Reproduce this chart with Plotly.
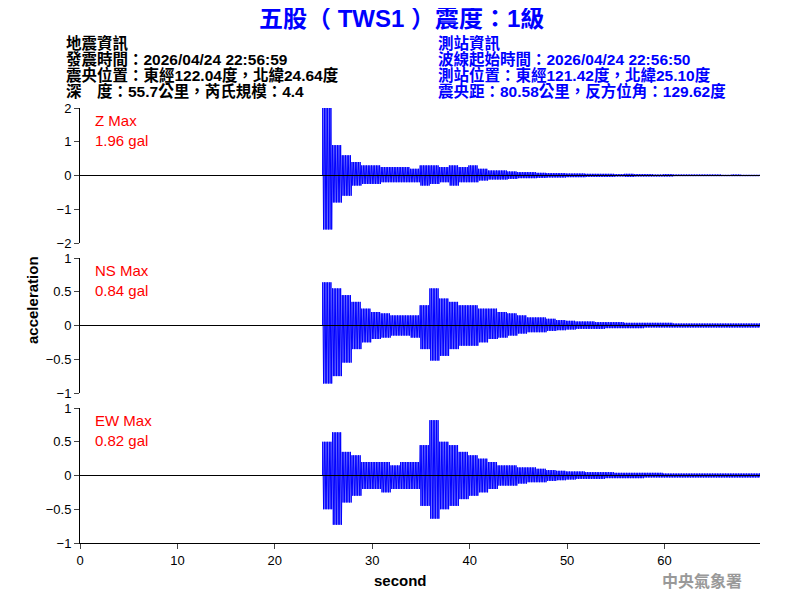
import plotly.graph_objects as go

t_sec = list(range(25, 70))
z_up = [2.0,0.9,0.6,0.4,0.3,0.3,0.25,0.25,0.25,0.2,0.3,0.3,0.25,0.3,0.25,0.3,0.2,0.15,0.15,0.12,0.1,0.1,0.08,0.07,0.07,0.06,0.06,0.05,0.05,0.05,0.04,0.05,0.04,0.04,0.03,0.04,0.03,0.03,0.03,0.03,0.03,0.02,0.03,0.02,0.02]
z_lo = [-1.6,-0.8,-0.6,-0.3,-0.25,-0.25,-0.2,-0.2,-0.2,-0.2,-0.3,-0.25,-0.2,-0.3,-0.2,-0.2,-0.15,-0.12,-0.12,-0.1,-0.08,-0.08,-0.07,-0.06,-0.06,-0.05,-0.05,-0.04,-0.04,-0.04,-0.03,-0.04,-0.03,-0.03,-0.03,-0.03,-0.02,-0.02,-0.02,-0.02,-0.02,-0.02,-0.02,-0.02,-0.02]
ns_up = [0.64,0.55,0.45,0.35,0.25,0.2,0.18,0.15,0.15,0.15,0.3,0.55,0.4,0.35,0.3,0.3,0.25,0.25,0.2,0.18,0.15,0.12,0.12,0.1,0.08,0.07,0.06,0.06,0.05,0.05,0.05,0.04,0.04,0.04,0.04,0.04,0.03,0.03,0.03,0.03,0.03,0.03,0.03,0.03,0.03]
ns_lo = [-0.86,-0.75,-0.55,-0.35,-0.25,-0.2,-0.18,-0.15,-0.15,-0.18,-0.35,-0.52,-0.45,-0.35,-0.3,-0.3,-0.25,-0.2,-0.18,-0.15,-0.12,-0.1,-0.1,-0.08,-0.07,-0.06,-0.05,-0.05,-0.05,-0.04,-0.04,-0.04,-0.04,-0.03,-0.03,-0.03,-0.03,-0.03,-0.03,-0.03,-0.03,-0.03,-0.03,-0.03,-0.03]
ew_up = [0.5,0.64,0.35,0.3,0.2,0.2,0.2,0.15,0.2,0.2,0.45,0.82,0.5,0.45,0.35,0.3,0.25,0.2,0.15,0.15,0.12,0.12,0.1,0.08,0.07,0.06,0.06,0.05,0.05,0.05,0.04,0.04,0.04,0.04,0.04,0.03,0.03,0.03,0.03,0.03,0.03,0.03,0.03,0.03,0.03]
ew_lo = [-0.5,-0.73,-0.4,-0.3,-0.2,-0.2,-0.25,-0.2,-0.2,-0.2,-0.45,-0.64,-0.5,-0.45,-0.35,-0.3,-0.25,-0.2,-0.15,-0.15,-0.12,-0.1,-0.1,-0.08,-0.07,-0.06,-0.05,-0.05,-0.05,-0.04,-0.04,-0.04,-0.04,-0.03,-0.03,-0.03,-0.03,-0.03,-0.03,-0.03,-0.03,-0.03,-0.03,-0.03,-0.03]
labels = ["Z Max<br>1.96 gal", "NS Max<br>0.84 gal", "EW Max<br>0.82 gal"]
left_info = ["地震資訊", "發震時間：2026/04/24 22:56:59", "震央位置：東經122.04度，北緯24.64度", "深　度：55.7公里，芮氏規模：4.4"]
right_info = ["測站資訊", "波線起始時間：2026/04/24 22:56:50", "測站位置：東經121.42度，北緯25.10度", "震央距：80.58公里，反方位角：129.62度"]

def trace(up, lo):
    xs, ys = [0, 24.9], [0, 0]
    for t, u, l in zip(t_sec, up, lo):
        for k in range(6):
            xs += [t - 0.08 + k * 0.167, t + k * 0.167]
            ys += [u, l]
    xs.append(69.8); ys.append(0)
    return xs, ys

fig = go.Figure()
OFF = 8  # page body margin
W, H = 800, 600
L, R, T, B = 72, 48, 100, 65
pw, ph = W - L - R, H - T - B
def px(x): return (x - OFF - L) / pw
def py(y): return (H - B - (y - OFF)) / ph
doms = [(108, 243), (258, 393), (408, 543)]
ranges = [[-2, 2], [-1, 1], [-1, 1]]
ticks = [[-2, -1, 0, 1, 2], [-1, -0.5, 0, 0.5, 1], [-1, -0.5, 0, 0.5, 1]]
for i, (u, l) in enumerate([(z_up, z_lo), (ns_up, ns_lo), (ew_up, ew_lo)]):
    xs, ys = trace(u, l)
    ax = "" if i == 0 else str(i + 1)
    fig.add_trace(go.Scatter(x=xs, y=ys, mode="lines", line=dict(color="blue", width=1),
                             xaxis="x" + ax, yaxis="y" + ax, showlegend=False, hoverinfo="skip"))
    fig.add_trace(go.Scatter(x=[0, 69.8], y=[0, 0], mode="lines", line=dict(color="black", width=1),
                             xaxis="x" + ax, yaxis="y" + ax, showlegend=False, hoverinfo="skip"))
    d = doms[i]
    fig.layout["yaxis" + ax] = dict(domain=[py(d[1]), py(d[0])], range=ranges[i], tickvals=ticks[i],
                                    showline=True, linecolor="black", ticks="outside", ticklen=5,
                                    showgrid=False, zeroline=False, anchor="x" + ax,
                                    tickfont=dict(size=13, color="black"))
    fig.layout["xaxis" + ax] = dict(range=[0, 69.8], anchor="y" + ax, showgrid=False, zeroline=False,
                                    showline=(i == 2), linecolor="black", ticks="outside" if i == 2 else "",
                                    showticklabels=(i == 2), tickvals=[0, 10, 20, 30, 40, 50, 60],
                                    matches=None if i == 0 else "x", tickfont=dict(size=13, color="black"))
    fig.add_annotation(text=labels[i], x=px(93), y=py(d[0] + 2), xref="paper", yref="paper",
                       xanchor="left", yanchor="top", showarrow=False, align="left",
                       font=dict(size=15, color="red", family="Liberation Sans"))

def txt(t, x, y, anc, sz, col, ang=0):
    fig.add_annotation(text="<b>" + t + "</b>", x=px(x), y=py(y), xref="paper", yref="paper",
                       xanchor=anc, yanchor="middle", showarrow=False, textangle=ang,
                       font=dict(size=sz, color=col, family="Liberation Sans, Noto Sans CJK TC"))

txt("五股（ TWS1 ）震度：1級", 401, 19, "center", 24, "blue")
for j, s in enumerate(left_info):
    txt(s, 64, 43 + 16 * j, "left", 15.5, "black")
for j, s in enumerate(right_info):
    txt(s, 436, 43 + 16 * j, "left", 15.5, "blue")
txt("second", 400, 580, "center", 15, "black")
txt("中央氣象署", 702, 581, "center", 16, "#999999")
txt("acceleration", 32, 300, "center", 15, "black", -90)

fig.update_layout(width=W, height=H, margin=dict(l=L, r=R, t=T, b=B, autoexpand=False), plot_bgcolor="white",
                  paper_bgcolor="white", font=dict(family="Liberation Sans, Noto Sans CJK TC"))
fig.write_html("out.html")
